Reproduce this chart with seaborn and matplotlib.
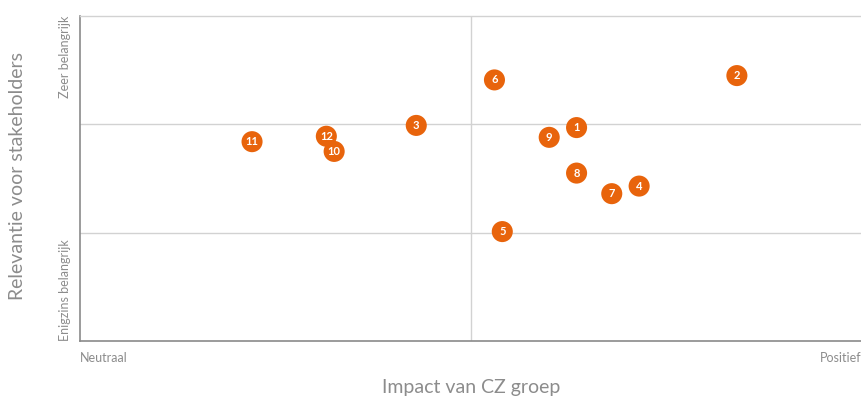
import pandas as pd
import matplotlib
matplotlib.use("Agg")
import matplotlib.pyplot as plt
import seaborn as sns

# Materiality matrix data
topics = ["1", "2", "3", "4", "5", "6", "7", "8", "9", "10", "11", "12"]
impact = [1.27, 1.68, 0.86, 1.43, 1.08, 1.06, 1.36, 1.27, 1.20, 0.65, 0.44, 0.63]
relevance = [1.97, 2.45, 1.99, 1.43, 1.01, 2.41, 1.36, 1.55, 1.88, 1.75, 1.84, 1.89]

x_ticks = ["Neutraal", "Positief"]
y_ticks = ["Enigzins belangrijk", "Zeer belangrijk"]

df = pd.DataFrame({"topic": topics, "impact": impact, "relevance": relevance})

sns.set_style("white")
plt.rcParams["font.family"] = ["Lato", "DejaVu Sans"]

orange = "#E8640C"
text_grey = "#8c8c8c"
grid_grey = "#d2d2d2"

fig = plt.figure(figsize=(8.62, 4.01), dpi=100)
ax = fig.add_axes([80 / 862, 60 / 401, 782 / 862, 325 / 401])

sns.scatterplot(data=df, x="impact", y="relevance", ax=ax,
                color=orange, s=230, edgecolor="none", zorder=3, legend=False)

for _, r in df.iterrows():
    ax.text(r["impact"], r["relevance"], r["topic"], color="white",
            fontsize=8, fontweight="bold", ha="center", va="center", zorder=4)

ax.set_xlim(0, 2)
ax.set_ylim(0, 3)

# quadrant lines
ax.axvline(1, color=grid_grey, lw=1, zorder=1)
ax.axhline(1, color=grid_grey, lw=1, zorder=1)
ax.axhline(2, color=grid_grey, lw=1, zorder=1)

ax.set_xticks([])
ax.set_yticks([])
ax.set_xlabel("")
ax.set_ylabel("")

for side in ["left", "bottom"]:
    ax.spines[side].set_color("#8a8a8a")
    ax.spines[side].set_linewidth(1.2)
ax.spines["top"].set_color(grid_grey)
ax.spines["top"].set_linewidth(1)
ax.spines["right"].set_visible(False)

# corner labels
ax.text(0, -0.035, x_ticks[0], transform=ax.transAxes, ha="left", va="top",
        fontsize=9, color=text_grey)
ax.text(1, -0.035, x_ticks[1], transform=ax.transAxes, ha="right", va="top",
        fontsize=9, color=text_grey)
ax.text(-0.012, 0, y_ticks[0], transform=ax.transAxes, ha="right", va="bottom",
        rotation=90, fontsize=9, color=text_grey)
ax.text(-0.012, 1, y_ticks[1], transform=ax.transAxes, ha="right", va="top",
        rotation=90, fontsize=9, color=text_grey)

fig.text(471 / 862, 1 - 388 / 401, "Impact van CZ groep", ha="center",
         va="center", fontsize=14, color=text_grey)
fig.text(18 / 862, 1 - 176 / 401, "Relevantie voor stakeholders", ha="center",
         va="center", rotation=90, fontsize=14, color=text_grey)

fig.savefig("out.png", dpi=100)
